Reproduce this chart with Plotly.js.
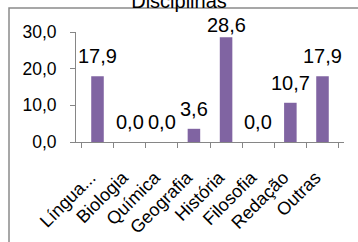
<!DOCTYPE html>
<html><head><meta charset="utf-8">
<script src="https://cdn.plot.ly/plotly-3.0.1.min.js"></script>
<style>html,body{margin:0;padding:0;background:#fff}#chart{width:358px;height:242px}</style>
</head><body><div id="chart"></div>
<script>
var categories = ["Língua...", "Biologia", "Química", "Geografia", "História", "Filosofia", "Redação", "Outras"];
var values = [17.9, 0.0, 0.0, 3.6, 28.6, 0.0, 10.7, 17.9];
var chartTitle = "Disciplinas";

function fmt(v){ return v.toFixed(1).replace('.', ','); }

var annotations = categories.map(function(c, i){
  var v = values[i];
  return {
    x: c, y: v, xref: 'x', yref: 'y', text: fmt(v), showarrow: false,
    yanchor: 'middle', yshift: Math.min(20, (31.9 - v) * 3.67),
    font: {family: 'Liberation Sans, Arial, sans-serif', size: 20, color: '#000'}
  };
});

var trace = {
  type: 'bar', x: categories, y: values,
  marker: {color: '#8064A2'}, hoverinfo: 'none'
};

var layout = {
  width: 358, height: 242,
  margin: {l: 76, r: 14, t: 32, b: 100},
  paper_bgcolor: '#fff', plot_bgcolor: '#fff',
  separators: ',.',
  showlegend: false,
  bargap: 0.61,
  font: {family: 'Liberation Sans, Arial, sans-serif', size: 17, color: '#000'},
  title: {text: chartTitle, x: 0.5, xanchor: 'center', yref: 'container', y: 0.995, yanchor: 'middle',
          font: {family: 'Liberation Sans, Arial, sans-serif', size: 20, color: '#000'}},
  xaxis: {
    type: 'category', tickangle: -45, showline: true, linecolor: '#868686', linewidth: 1,
    ticks: 'outside', ticklen: 5, tickcolor: '#868686', tickson: 'boundaries',
    showgrid: false, zeroline: false, tickfont: {size: 18},
    ticklabelstandoff: 17, ticklabelshift: -7
  },
  yaxis: {
    range: [0, 30], dtick: 10, tickformat: '.1f', showline: true, linecolor: '#868686', linewidth: 1,
    ticks: 'outside', ticklen: 5, tickcolor: '#868686', showgrid: false, zeroline: false,
    ticklabelstandoff: 10, tickfont: {size: 17.5}
  },
  annotations: annotations,
  shapes: [{type: 'rect', xref: 'paper', yref: 'paper', x0: -0.25, x1: 1.1, y0: -1.1, y1: 1.218,
            line: {color: '#8a8a8a', width: 1.5}, fillcolor: 'rgba(0,0,0,0)', layer: 'below'}]
};

Plotly.newPlot('chart', [trace], layout, {staticPlot: true, displayModeBar: false});
</script></body></html>
